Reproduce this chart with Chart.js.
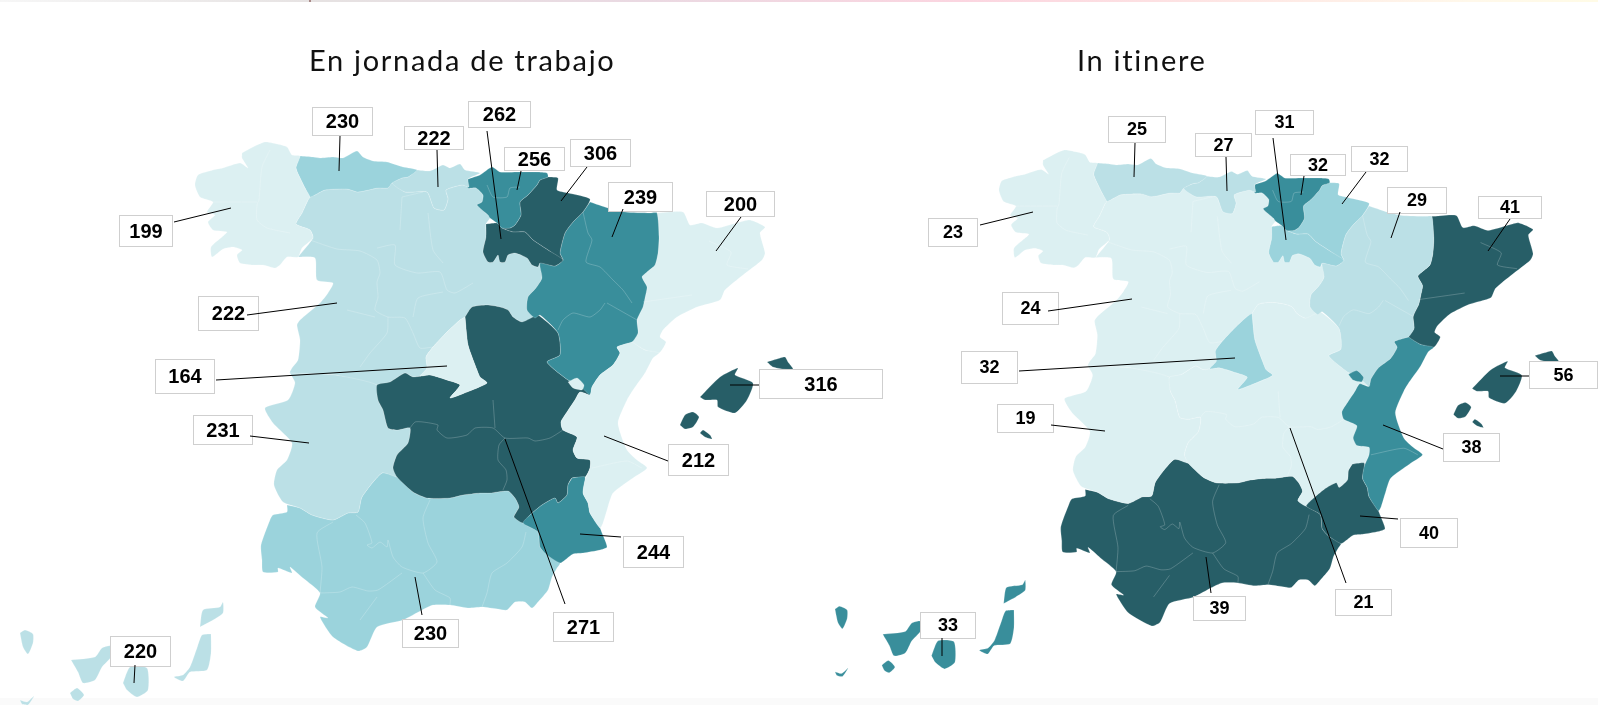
<!DOCTYPE html>
<html lang="es">
<head>
<meta charset="utf-8">
<title>Accidentes por comunidad autónoma</title>
<script src="https://cdn.jsdelivr.net/npm/chart.js@4"></script>
<style>
  html, body { margin: 0; background: #fff; overflow: hidden; }
  #pagina { position: relative; width: 1598px; height: 705px; }
  canvas { position: absolute; top: 0; }
  #mapaJornada { left: 0; }
  #mapaItinere { left: 799px; }
  h2 { position: absolute; margin: 0; font: 400 29px Lato, sans-serif; color: #111; white-space: nowrap; z-index: 2; letter-spacing: 1.7px; }
  #tituloJornada { left: 309px; top: 42px; }
  #tituloItinere { left: 1077px; top: 42px; }
  #bandaSup { position: absolute; left: 0; right: 0; top: 0; height: 2px; background: linear-gradient(90deg, #f6f6f6, #e6e2e2 20%, #ead9e2 40%, #fbd5e0 60%, #fde0e2 72%, #fff8ea 92%, #fffbe6); }
  #marca { position: absolute; left: 309px; top: 0; width: 2px; height: 2px; background: #a98a88; }
  #banda { position: absolute; left: 0; right: 0; bottom: 0; height: 7px; background: #fafafa; }
</style>
</head>
<body>
<div id="pagina">
  <div id="bandaSup"></div>
  <div id="marca"></div>
  <div id="banda"></div>
  <h2 id="tituloJornada">En jornada de trabajo</h2>
  <h2 id="tituloItinere">In itinere</h2>
  <canvas id="mapaJornada" width="899" height="705"></canvas>
  <canvas id="mapaItinere" width="799" height="705"></canvas>
</div>
<script>
// Datos por comunidad
const regiones = ['Galicia', 'Asturias', 'Cantabria', 'País Vasco', 'Navarra', 'La Rioja', 'Aragón', 'Cataluña',
  'Castilla y León', 'Madrid', 'Castilla-La Mancha', 'C. Valenciana', 'Murcia', 'Extremadura', 'Andalucía', 'Baleares', 'Canarias'];
const valoresJornada = [199, 230, 222, 256, 306, 262, 239, 200, 222, 164, 271, 212, 244, 231, 230, 316, 220];
const valoresItinere = [23, 25, 27, 32, 32, 31, 29, 41, 24, 32, 21, 38, 40, 19, 39, 56, 33];
// grupo de color de cada comunidad (0 el más claro, 4 el más oscuro)
const gruposJornada = [0, 2, 1, 3, 4, 4, 3, 0, 1, 0, 4, 0, 3, 1, 2, 4, 1];
const gruposItinere = [0, 1, 1, 3, 2, 2, 1, 4, 0, 2, 0, 3, 4, 0, 4, 4, 3];

const colores = ['#dcf0f2', '#bbe0e6', '#9bd3dc', '#398e9b', '#275e67'];

// Contornos en unidades de mapa
const contornos = {
  'C. Valenciana': [
    [[568,382],[577,378],[584,385],[582,390],[573,388]],
    [[632,342],[645,350],[659,353],[653,358],[645,373],[633,390],[627,400],[618,423],[627,450],[637,460],[647,468],[633,478],[613,493],[607,510],[603,523],[600,528],[590,513],[588,503],[583,493],[585,480],[590,468],[590,460],[577,458],[573,450],[577,437],[563,430],[561,422],[567,412],[575,400],[580,392],[590,395],[592,387],[600,375],[613,365],[620,353],[617,347]]
  ],
  'Galicia': [[[242,153],[253,147],[265,142],[277,144],[287,147],[292,155],[300,156],[296,168],[302,182],[305,188],[310,197],[308,200],[302,213],[296,224],[310,230],[313,238],[302,248],[298,257],[287,257],[280,265],[275,268],[263,265],[253,265],[240,263],[237,255],[242,250],[233,247],[223,249],[212,257],[211,247],[222,237],[227,232],[213,230],[208,222],[215,215],[207,212],[213,202],[200,197],[195,185],[198,175],[213,170],[223,168],[240,163],[248,168],[242,158]]],
  'Asturias': [[[300,156],[313,157],[320,158],[333,157],[343,158],[357,151],[363,157],[373,161],[387,162],[403,167],[417,170],[408,177],[402,178],[392,183],[388,188],[378,188],[358,192],[347,189],[325,190],[315,195],[310,197],[305,188],[302,182],[296,168]]],
  'Cantabria': [[[417,170],[430,171],[443,165],[450,168],[460,164],[465,170],[480,173],[468,179],[469,187],[462,185],[446,190],[448,199],[444,210],[434,208],[427,192],[405,192],[392,183],[402,178],[408,177]]],
  'País Vasco': [[[468,179],[480,175],[492,167],[500,172],[517,172],[537,172],[547,173],[548,177],[540,180],[537,185],[528,195],[520,202],[521,215],[515,225],[510,228],[502,228],[497,223],[490,218],[488,215],[477,205],[482,202],[483,195],[476,188],[468,188]]],
  'La Rioja': [[[486,224],[497,223],[502,228],[513,232],[525,232],[533,240],[548,250],[563,260],[555,266],[540,263],[538,267],[532,265],[527,258],[515,253],[508,255],[505,262],[500,262],[498,255],[493,262],[488,262],[483,252],[486,237]]],
  'Navarra': [[[548,177],[558,178],[557,190],[568,193],[590,199],[583,212],[573,222],[565,233],[560,253],[563,260],[548,250],[533,240],[525,232],[513,232],[502,228],[510,228],[515,225],[521,215],[520,202],[528,195],[537,185],[540,180]]],
  'Murcia': [[[572,478],[585,477],[583,493],[588,503],[590,513],[600,528],[602,533],[607,547],[600,550],[583,553],[573,554],[565,560],[560,563],[547,555],[540,547],[538,532],[523,523],[530,515],[542,505],[555,498],[558,503],[567,495],[568,485]]],
  'Madrid': [[[465,317],[468,345],[477,370],[480,377],[487,383],[467,392],[450,398],[460,385],[447,380],[430,375],[420,376],[427,368],[426,357],[433,347],[447,332],[460,320]]],
  'Aragón': [[[590,202],[608,208],[625,212],[650,213],[657,213],[659,237],[658,253],[655,265],[647,272],[642,277],[647,287],[645,298],[643,307],[637,320],[638,333],[632,342],[617,347],[620,353],[613,365],[600,375],[592,387],[590,395],[577,383],[568,380],[547,362],[560,355],[558,333],[540,315],[535,318],[527,310],[528,297],[536,288],[542,278],[540,263],[555,266],[563,260],[560,253],[565,233],[573,222],[583,212]]],
  'Cataluña': [[[657,213],[683,212],[690,225],[702,223],[717,228],[740,222],[750,220],[765,227],[760,233],[765,253],[762,260],[743,275],[725,290],[720,300],[697,307],[677,317],[663,330],[660,337],[666,342],[659,353],[645,350],[632,342],[638,333],[637,320],[643,307],[645,298],[647,287],[642,277],[647,272],[655,265],[658,253],[659,237]]],
  'Castilla-La Mancha': [[[465,317],[472,307],[487,305],[500,307],[508,310],[513,317],[522,322],[533,317],[538,315],[558,333],[560,355],[547,362],[568,380],[577,383],[590,395],[580,392],[575,400],[567,412],[561,422],[563,430],[577,437],[573,450],[577,458],[590,460],[590,468],[585,477],[572,478],[568,485],[567,495],[558,503],[555,498],[542,505],[530,515],[523,523],[514,517],[519,507],[515,498],[508,491],[490,493],[480,493],[463,495],[450,498],[427,498],[413,492],[397,477],[393,468],[397,455],[408,443],[410,428],[397,430],[388,428],[383,410],[378,400],[377,385],[390,382],[405,373],[413,377],[430,375],[447,380],[460,385],[450,398],[467,392],[487,383],[480,377],[477,370],[468,345]]],
  'Extremadura': [[[290,373],[335,375],[377,385],[378,400],[383,410],[388,428],[397,430],[410,428],[408,443],[397,455],[393,468],[397,477],[382,473],[362,497],[358,512],[348,513],[333,520],[312,515],[300,508],[283,502],[274,485],[277,470],[287,460],[292,443],[273,423],[265,408],[288,400],[295,383]]],
  'Andalucía': [[[287,505],[300,508],[312,515],[333,520],[348,513],[358,512],[362,497],[382,473],[397,477],[413,492],[427,498],[450,498],[463,495],[480,493],[490,493],[508,491],[515,498],[519,507],[514,517],[523,523],[538,532],[540,547],[547,555],[560,563],[557,568],[552,577],[548,590],[538,602],[532,608],[525,602],[515,602],[507,610],[498,609],[482,607],[468,608],[450,605],[433,605],[422,610],[403,620],[377,627],[367,647],[358,651],[333,637],[320,617],[328,618],[315,607],[320,593],[303,578],[290,567],[292,573],[278,568],[278,572],[263,572],[262,560],[261,545],[270,520],[273,515],[287,512]]],
  'Baleares': [
    [[700,397],[720,377],[738,368],[735,375],[753,383],[747,400],[735,413],[718,407],[717,400],[705,400]],
    [[767,362],[777,359],[785,357],[788,362],[793,369],[783,369],[773,367]],
    [[680,425],[685,415],[693,412],[699,417],[693,427],[685,429]],
    [[700,433],[703,430],[710,435],[712,439],[705,437]]
  ],
  'Canarias': [
    [[20,633],[25,630],[33,634],[33,643],[28,654],[23,647]],
    [[71,660],[95,657],[102,648],[111,646],[111,657],[102,667],[95,680],[83,683],[78,672]],
    [[70,693],[77,688],[84,695],[78,701],[73,699]],
    [[20,700],[27,702],[34,696],[28,705],[22,704]],
    [[123,683],[130,667],[147,668],[148,690],[137,697],[127,690]],
    [[200,627],[203,610],[220,607],[223,602],[223,613],[213,620]],
    [[211,634],[211,653],[207,670],[190,672],[183,681],[174,677],[183,675],[190,667],[197,648],[202,635]]
  ],
  'Castilla y León': [[[298,257],[313,238],[310,230],[296,224],[302,213],[308,200],[310,197],[315,195],[325,190],[347,189],[358,192],[378,188],[388,188],[392,183],[405,192],[427,192],[434,208],[444,210],[448,199],[446,190],[462,185],[469,187],[468,188],[476,188],[483,195],[482,202],[477,205],[488,215],[490,218],[486,224],[486,237],[483,252],[488,262],[493,262],[498,255],[500,262],[505,262],[508,255],[515,253],[527,258],[532,265],[538,267],[540,263],[542,278],[536,288],[528,297],[527,310],[535,318],[522,322],[513,317],[508,310],[500,307],[487,305],[472,307],[465,317],[460,320],[447,332],[433,347],[426,357],[427,368],[420,376],[413,377],[405,373],[390,382],[377,385],[335,375],[290,373],[292,368],[298,360],[300,340],[297,325],[300,320],[320,303],[328,293],[333,283],[317,280],[315,258]]]
};

// Límites de provincias (líneas finas)
const provincias = [
  [[270,150],[262,167],[259,200],[257,205],[257,220],[267,228],[290,233]],
  [[213,202],[257,202]],
  [[310,240],[337,249],[360,251],[377,260],[380,273],[377,282],[378,297],[375,310],[388,317],[405,318],[413,333],[420,348],[433,347]],
  [[377,248],[395,245],[395,265],[417,273],[440,272],[447,290],[455,293],[473,283]],
  [[402,197],[423,192]], [[400,230],[402,197]],
  [[388,317],[387,333],[370,353],[360,367]],
  [[347,310],[375,317]],
  [[413,317],[418,298],[443,292]],
  [[428,213],[433,250],[443,263]],
  [[410,428],[415,422],[423,422],[438,425],[437,430],[447,438],[467,435],[475,428],[493,428],[505,438],[528,438],[535,441],[550,438],[563,430]],
  [[505,438],[499,445],[498,460],[506,470],[507,480],[503,490]],
  [[493,400],[495,428]],
  [[356,515],[365,523],[372,543],[367,545],[372,548],[380,542],[387,547],[388,540],[393,557],[402,567],[423,573],[437,562],[428,543],[423,518],[430,500]],
  [[423,573],[435,590],[450,598],[450,605]],
  [[333,522],[317,533],[322,567],[320,593]],
  [[320,593],[340,592],[352,587],[368,591],[378,590],[402,573]],
  [[377,597],[360,620]],
  [[526,532],[522,547],[507,563],[492,573],[487,593],[482,607]],
  [[583,212],[588,233],[592,240],[586,262],[600,267],[613,280],[623,290],[632,303]],
  [[607,303],[637,320]],
  [[558,330],[563,320],[573,313],[590,317],[600,310],[605,303]],
  [[709,241],[731,252],[727,265],[748,269]],
  [[643,302],[692,295]],
  [[592,468],[627,461],[642,468]],
  [[487,185],[493,197],[507,197],[510,188],[520,187]]
];

// Etiquetas: valor, caja [x, y, ancho, alto] y línea [x1, y1, x2, y2], en píxeles de página
const cajasJornada = [
  [199, [119,215,54,32], [174,222,231,208]],
  [230, [312,107,61,29], [340,136,339,171]],
  [222, [404,126,60,24], [437,150,438,187]],
  [262, [468,101,63,27], [487,131,501,239]],
  [256, [504,147,61,24], [521,171,517,190]],
  [306, [570,139,61,28], [587,167,561,201]],
  [239, [608,182,65,30], [623,209,612,237]],
  [200, [706,191,69,26], [741,217,716,251]],
  [316, [759,369,124,30], [730,385,759,385]],
  [222, [198,296,61,35], [247,315,337,303]],
  [164, [155,359,60,35], [216,380,447,366]],
  [231, [193,415,60,30], [250,436,309,443]],
  [212, [668,444,61,32], [604,436,668,461]],
  [244, [623,536,61,32], [580,534,621,537]],
  [271, [553,612,61,30], [505,439,565,604]],
  [230, [402,619,57,29], [415,577,422,615]],
  [220, [110,636,61,31], [135,665,134,683]]
];
const cajasItinere = [
  [23, [928,218,50,29], [980,225,1033,212]],
  [25, [1108,116,58,27], [1135,143,1134,177]],
  [27, [1195,133,57,24], [1226,157,1227,191]],
  [31, [1255,110,59,25], [1273,138,1286,240]],
  [32, [1290,154,56,22], [1304,176,1301,195]],
  [32, [1351,146,57,26], [1366,172,1342,204]],
  [29, [1387,187,60,27], [1400,212,1391,238]],
  [41, [1478,196,64,23], [1510,219,1488,251]],
  [56, [1529,361,69,28], [1500,376,1529,376]],
  [24, [1002,292,57,33], [1048,311,1132,299]],
  [32, [961,351,57,33], [1019,371,1235,358]],
  [19, [997,404,57,29], [1051,425,1105,431]],
  [38, [1443,433,57,29], [1383,425,1443,449]],
  [40, [1400,518,58,30], [1360,516,1398,519]],
  [21, [1335,589,57,27], [1290,428,1346,583]],
  [39, [1193,596,53,25], [1206,557,1211,593]],
  [33, [920,612,56,27], [942,638,942,656]]
];

function aPuntos(anillo) {
  const puntos = anillo.map(p => ({ x: p[0], y: p[1] }));
  puntos.push(puntos[0]);
  return puntos;
}

function crearDatasets(grupos) {
  const lineas = provincias.map(tramo => ({
    data: tramo.map(p => ({ x: p[0], y: p[1] })),
    showLine: true,
    fill: false,
    borderColor: 'rgba(255,255,255,0.3)',
    borderWidth: 0.7,
    tension: 0.2,
    pointRadius: 0
  }));
  const zonas = [];
  Object.keys(contornos).forEach(nombre => {
    const color = colores[grupos[regiones.indexOf(nombre)]];
    contornos[nombre].forEach(anillo => {
      zonas.push({
        label: nombre,
        data: aPuntos(anillo),
        showLine: true,
        fill: 'shape',
        backgroundColor: color,
        borderColor: 'rgba(255,255,255,0.3)',
        borderWidth: 0.6,
        tension: 0.2,
        pointRadius: 0
      });
    });
  });
  return lineas.concat(zonas);
}

// Cajas con el valor y su línea
const etiquetas = {
  id: 'etiquetas',
  afterDatasetsDraw(chart, args, opts) {
    const ctx = chart.ctx;
    ctx.save();
    ctx.translate(-opts.origen, 0);
    opts.cajas.forEach(([valor, caja, linea]) => {
      const [x, y, w, h] = caja;
      ctx.fillStyle = '#fff';
      ctx.fillRect(x, y, w, h);
      ctx.strokeStyle = '#cfcfcf';
      ctx.lineWidth = 1;
      ctx.strokeRect(x + 0.5, y + 0.5, w - 1, h - 1);
      ctx.strokeStyle = '#000';
      ctx.beginPath();
      ctx.moveTo(linea[0], linea[1]);
      ctx.lineTo(linea[2], linea[3]);
      ctx.stroke();
      ctx.fillStyle = '#000';
      ctx.font = 'bold ' + opts.fuente + 'px "Liberation Sans", Arial, sans-serif';
      ctx.textAlign = 'center';
      ctx.textBaseline = 'middle';
      ctx.fillText(valor, x + w / 2, y + h / 2 + 1);
    });
    ctx.restore();
  }
};

function crearMapa(id, grupos, limites, cajas, origen, fuente) {
  return new Chart(document.getElementById(id), {
    type: 'scatter',
    data: { datasets: crearDatasets(grupos) },
    plugins: [etiquetas],
    options: {
      responsive: false,
      animation: false,
      layout: { padding: 0 },
      plugins: {
        legend: { display: false },
        tooltip: { enabled: false },
        etiquetas: { cajas: cajas, origen: origen, fuente: fuente }
      },
      scales: {
        x: { type: 'linear', display: false, min: limites[0], max: limites[1] },
        y: { type: 'linear', display: false, min: limites[2], max: limites[3], reverse: true }
      }
    }
  });
}

// El mapa de la derecha usa el mismo contorno a menor escala
crearMapa('mapaJornada', gruposJornada, [0, 899, 0, 705], cajasJornada, 0, 20);
crearMapa('mapaItinere', gruposItinere, [-18.4, 834.3, -18.4, 735.6], cajasItinere, 799, 18);
</script>
</body>
</html>
